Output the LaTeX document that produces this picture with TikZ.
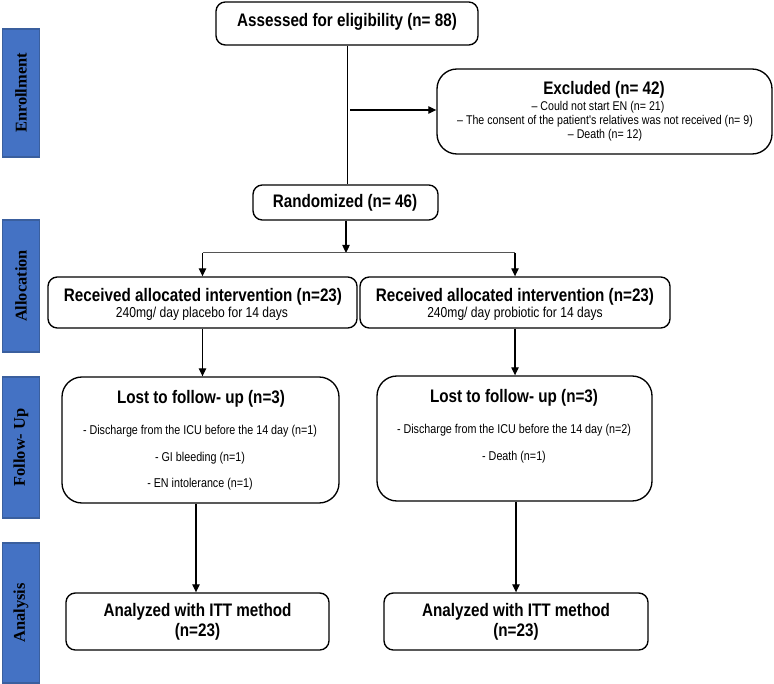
\documentclass[tikz,border=0pt]{standalone}
\usepackage{fontspec}
\setmainfont{Liberation Sans}
\newfontfamily\narrowfont[FakeStretch=0.84]{Liberation Sans}
\newfontfamily\sidefont{Liberation Serif}
\usetikzlibrary{arrows.meta}
\definecolor{barfill}{HTML}{4472C4}
\definecolor{baredge}{HTML}{3A5F9E}
\definecolor{lineg}{HTML}{555555}
\begin{document}
\begin{tikzpicture}[x=0.75pt,y=-0.75pt,
  box/.style={draw=black,line width=1pt,rounded corners=7pt,fill=white,inner sep=0pt},
  bigbox/.style={box,rounded corners=15pt},
  bar/.style={draw=baredge,line width=1.2pt,fill=barfill,inner sep=0pt},
  side/.style={font=\sidefont\bfseries\fontsize{12.3}{14}\selectfont,rotate=90,text=black},
  ttl/.style={font=\narrowfont\bfseries\fontsize{13.6}{15}\selectfont,inner sep=0pt},
  sub/.style={font=\narrowfont\fontsize{10.8}{12}\selectfont,inner sep=0pt},
  small/.style={font=\narrowfont\fontsize{9.5}{10}\selectfont,inner sep=0pt},
  mid/.style={font=\narrowfont\fontsize{9.6}{11}\selectfont,inner sep=0pt},
  arr/.style={draw=black,line width=0.9pt,-{Triangle[length=6pt,width=5.5pt]}},
  ln/.style={draw=black,line width=0.55pt},
]
\useasboundingbox (0,0) rectangle (774,684);
\fill[white] (0,0) rectangle (774,684);

% side bars
\node[bar,minimum width=37*0.75pt,minimum height=128*0.75pt] (b1) at (21,93) {};
\node[bar,minimum width=37*0.75pt,minimum height=132*0.75pt] (b2) at (21,286) {};
\node[bar,minimum width=37*0.75pt,minimum height=141*0.75pt] (b3) at (21,447.5) {};
\node[bar,minimum width=37*0.75pt,minimum height=140*0.75pt] (b4) at (21,613) {};
\node[side] (s1) at (b1) {Enrollment};
\node[side] (s2) at (b2) {Allocation};
\node[side] (s3) at (b3) {Follow- Up};
\node[side] (s4) at (b4) {Analysis};

% boxes
\node[box,minimum width=262*0.75pt,minimum height=43*0.75pt] (assessed) at (347,23.5) {};
\node[bigbox,minimum width=335*0.75pt,minimum height=85*0.75pt] (excluded) at (604.5,111.5) {};
\node[box,minimum width=185*0.75pt,minimum height=35*0.75pt] (random) at (345.5,202.5) {};
\node[box,minimum width=309*0.75pt,minimum height=51*0.75pt] (recL) at (202.5,302.5) {};
\node[box,minimum width=310*0.75pt,minimum height=51*0.75pt] (recR) at (515,302.5) {};
\node[bigbox,minimum width=277*0.75pt,minimum height=126*0.75pt] (lostL) at (200.5,440) {};
\node[bigbox,minimum width=275*0.75pt,minimum height=125*0.75pt] (lostR) at (514.5,438.5) {};
\node[box,minimum width=263*0.75pt,minimum height=57*0.75pt] (anaL) at (197.5,621.5) {};
\node[box,minimum width=264*0.75pt,minimum height=57*0.75pt] (anaR) at (516,621.5) {};

% texts
\node[ttl] (tA) at (347,22) {Assessed for eligibility (n= 88)};
\node[ttl] (tE) at (604,90) {Excluded (n= 42)};
\node[small] (tE1) at (598,107) {– Could not start EN (n= 21)};
\node[small] (tE2) at (605,121) {– The consent of the patient's relatives was not received (n= 9)};
\node[small] (tE3) at (605,135) {– Death (n= 12)};
\node[ttl] (tR) at (345,203) {Randomized (n= 46)};
\node[ttl] (tRL) at (203,297) {Received allocated intervention (n=23)};
\node[sub] (tRL1) at (202,314) {240mg/ day placebo for 14 days};
\node[ttl] (tRR) at (515,297) {Received allocated intervention (n=23)};
\node[sub] (tRR1) at (515,314) {240mg/ day probiotic for 14 days};
\node[ttl] (tLL) at (201,399) {Lost to follow- up (n=3)};
\node[mid] (tLL1) at (200,431) {- Discharge from the ICU before the 14 day (n=1)};
\node[mid] (tLL2) at (200,458) {- GI bleeding (n=1)};
\node[mid] (tLL3) at (200,484) {- EN intolerance (n=1)};
\node[ttl] (tLR) at (514,398) {Lost to follow- up (n=3)};
\node[mid] (tLR1) at (514,430) {- Discharge from the ICU before the 14 day (n=2)};
\node[mid] (tLR2) at (514,457) {- Death (n=1)};
\node[ttl] (tAL) at (197.5,612) {Analyzed with ITT method};
\node[ttl] (tAL1) at (197.5,632) {(n=23)};
\node[ttl] (tAR) at (516,612) {Analyzed with ITT method};
\node[ttl] (tAR1) at (516,632) {(n=23)};

% connectors
\draw[ln] (assessed.south) -- (assessed.south |- random.north);
\coordinate (exstart) at (350,110);
\draw[arr] (exstart) -- (exstart -| excluded.west);
\coordinate (junc) at (346,253);
\draw[arr] (random.south -| junc) -- (junc);
\draw[draw=lineg,line width=0.75pt] (recL.north |- junc) -- (recR.north |- junc);
\draw[arr] (recL.north |- junc) -- (recL.north);
\draw[arr] (recR.north |- junc) -- (recR.north);
\draw[arr] (recL.south) -- (recL.south |- lostL.north);
\draw[arr] (recR.south) -- (recR.south |- lostR.north);
\draw[arr] (lostL.south -| 196,0) -- (196,0 |- anaL.north);
\draw[arr] (anaR.north |- lostR.south) -- (anaR.north);
\end{tikzpicture}
\end{document}
